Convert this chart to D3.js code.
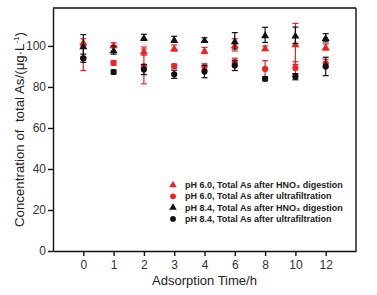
<!DOCTYPE html>
<html lang="en">
<head>
<meta charset="utf-8">
<title>Adsorption time chart</title>
<script src="https://d3js.org/d3.v7.min.js"></script>
<style>
  body { margin: 0; background: #fff; }
  text { font-family: "Liberation Sans", Arial, sans-serif; fill: #222; }
  .axis path, .axis line { stroke: #111; stroke-width: 1.4; }
  .axis text { font-size: 12px; fill: #333; }
  .legend text { font-size: 9px; font-weight: bold; fill: #222; }
</style>
</head>
<body>
<svg id="chart" width="377" height="295"></svg>
<script>
// categories (hours), equally spaced on the axis
let times = ["0", "1", "2", "3", "4", "6", "8", "10", "12"];
let yTicks = [0, 20, 40, 60, 80, 100];

// pH 6.0 total As after HNO3 digestion
let redTri = [102, 100.5, 97.5, 99, 97.8, 100.5, 99, 101, 99.5];
let redTriErr = [1.5, 1, 2, 1.5, 1.5, 3, 1, 10, 1.5];
// pH 6.0 total As after ultrafiltration
let redCirc = [94, 91.7, 90, 90.2, 89.8, 92, 88.8, 89.3, 91.5];
let redCircErr = [6, 1, 8.5, 1, 1.5, 2, 4, 3, 2];
// pH 8.4 total As after HNO3 digestion
let blackTri = [100, 98, 104.2, 103.2, 103, 102.5, 105.4, 105.2, 104];
let blackTriErr = [5.5, 2, 1.5, 1.5, 1, 4, 3.7, 4, 2];
// pH 8.4 total As after ultrafiltration
let blackCirc = [94, 87.3, 88.5, 86.2, 87.5, 90.5, 84, 85, 90];
let blackCircErr = [2, 1, 2.5, 2, 3, 2.5, 1, 1.5, 4.5];

let legendLabels = [
  "pH 6.0, Total As after HNO\u2083 digestion",
  "pH 6.0, Total As after ultrafiltration",
  "pH 8.4, Total As after HNO\u2083 digestion",
  "pH 8.4, Total As after ultrafiltration"
];

let svg = d3.select("#chart");
let margin = {left: 53, right: 21, top: 8, bottom: 44};
let width = 377, height = 295;

let x = d3.scalePoint()
  .domain(times)
  .range([margin.left, width - margin.right])
  .padding(1);

let y = d3.scaleLinear()
  .domain([0, 118.5])
  .range([height - margin.bottom, margin.top]);

// frame top and right
svg.append("line")
  .attr("x1", margin.left).attr("x2", width - margin.right)
  .attr("y1", margin.top).attr("y2", margin.top)
  .attr("stroke", "#111").attr("stroke-width", 1.4);
svg.append("line")
  .attr("x1", width - margin.right).attr("x2", width - margin.right)
  .attr("y1", margin.top).attr("y2", height - margin.bottom)
  .attr("stroke", "#111").attr("stroke-width", 1.4);

svg.append("g")
  .attr("class", "axis")
  .attr("transform", "translate(0," + (height - margin.bottom) + ")")
  .call(d3.axisBottom(x).tickSizeInner(5).tickSizeOuter(0).tickPadding(4));

svg.append("g")
  .attr("class", "axis")
  .attr("transform", "translate(" + margin.left + ",0)")
  .call(d3.axisLeft(y).tickValues(yTicks).tickSizeInner(5).tickSizeOuter(0).tickPadding(2));

// axis titles
svg.append("text")
  .attr("x", (margin.left + width - margin.right) / 2)
  .attr("y", 285)
  .attr("text-anchor", "middle")
  .style("font-size", "13px")
  .text("Adsorption Time/h");

let yTitle = svg.append("text")
  .attr("transform", "translate(24," + ((margin.top + height - margin.bottom) / 2) + ") rotate(-90)")
  .attr("text-anchor", "middle")
  .style("font-size", "13.3px")
  .style("white-space", "pre");
yTitle.append("tspan").text("Concentration of  total As/(\u03bcg\u00b7L");
yTitle.append("tspan").attr("dy", -5).style("font-size", "8px").text("-1");
yTitle.append("tspan").attr("dy", 5).text(")");

let series = [
  {vals: redTri, err: redTriErr, color: "#ee2222", shape: d3.symbolTriangle},
  {vals: redCirc, err: redCircErr, color: "#ee2222", shape: d3.symbolCircle},
  {vals: blackTri, err: blackTriErr, color: "#111", shape: d3.symbolTriangle},
  {vals: blackCirc, err: blackCircErr, color: "#111", shape: d3.symbolCircle}
];

series.forEach(s => {
  let g = svg.append("g");
  let pts = times.map((t, i) => ({t: t, v: s.vals[i], e: s.err[i]}));
  let eb = g.selectAll(".eb").data(pts).enter().append("g");
  eb.append("line")
    .attr("x1", d => x(d.t)).attr("x2", d => x(d.t))
    .attr("y1", d => y(d.v + d.e)).attr("y2", d => y(d.v - d.e))
    .attr("stroke", s.color).attr("stroke-width", 1.2);
  [1, -1].forEach(sign => {
    eb.append("line")
      .attr("x1", d => x(d.t) - 3).attr("x2", d => x(d.t) + 3)
      .attr("y1", d => y(d.v + sign * d.e)).attr("y2", d => y(d.v + sign * d.e))
      .attr("stroke", s.color).attr("stroke-width", 1.2);
  });
  g.selectAll(".pt").data(pts).enter().append("path")
    .attr("d", d3.symbol().type(s.shape).size(s.shape === d3.symbolCircle ? 30 : 28))
    .attr("transform", d => "translate(" + x(d.t) + "," + (y(d.v) + (s.shape === d3.symbolTriangle ? 1 : 0)) + ")")
    .attr("fill", s.color);
});

// legend
let legend = svg.append("g").attr("class", "legend");
series.forEach((s, i) => {
  let ly = 185 + i * 11.3;
  legend.append("path")
    .attr("d", d3.symbol().type(s.shape).size(s.shape === d3.symbolCircle ? 26 : 24))
    .attr("transform", "translate(173," + ly + ")")
    .attr("fill", s.color);
  legend.append("text")
    .attr("x", 185).attr("y", ly + 3)
    .text(legendLabels[i]);
});
</script>
</body>
</html>
